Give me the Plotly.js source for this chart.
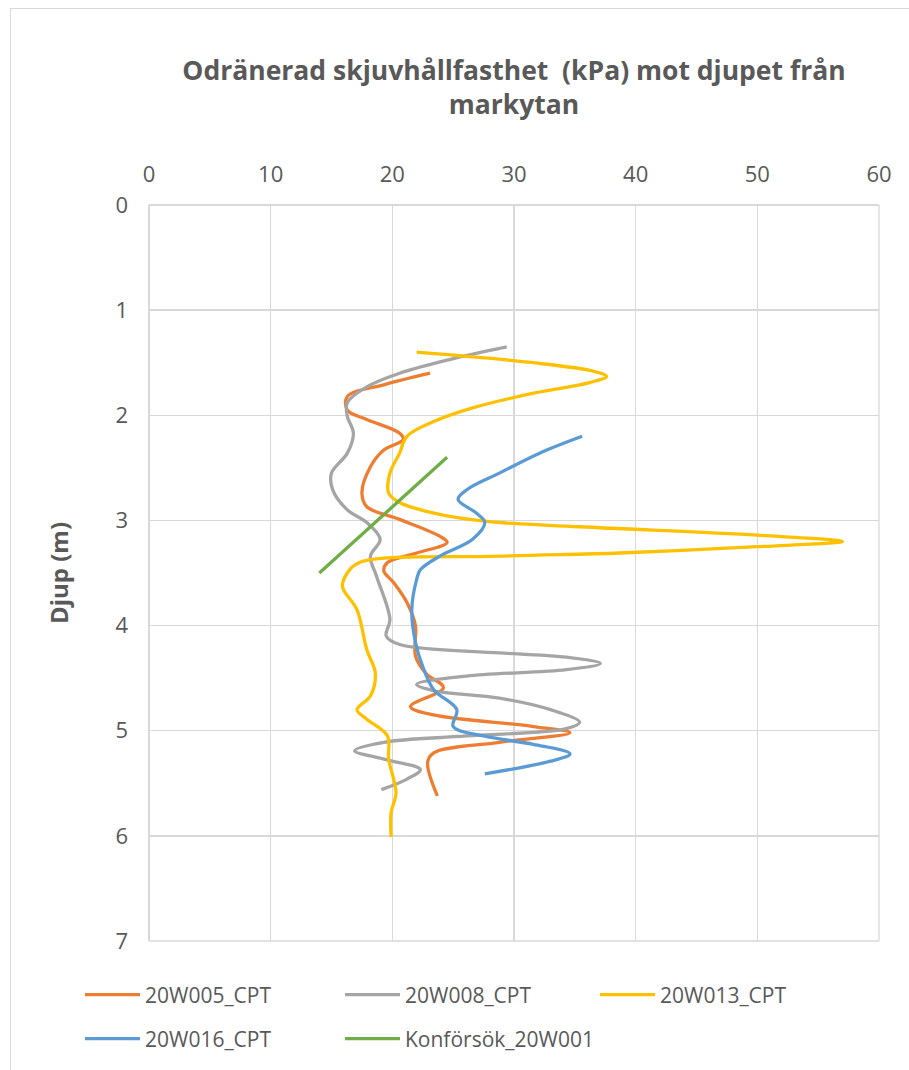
<!DOCTYPE html>
<html><head><meta charset="utf-8">
<script src="https://cdn.plot.ly/plotly-3.0.1.min.js"></script>
<style>
html,body{margin:0;padding:0;background:#fff;overflow:hidden;}
#frame{position:absolute;left:10px;top:8px;width:1000px;height:1100px;border-left:1px solid #d9d9d9;border-top:1px solid #d9d9d9;}
#chart{position:absolute;left:0;top:0;width:909px;height:1070px;}
</style></head>
<body>
<div id="frame"></div>
<div id="chart"></div>
<script>
const seriesNames = ["20W005_CPT","20W008_CPT","20W013_CPT","20W016_CPT","Konförsök_20W001"];
const seriesColors = ["#ED7D31","#A5A5A5","#FFC000","#5B9BD5","#70AD47"];

const w005_kpa = [23.1,19.3,16.3,16.3,17.9,20.6,20.9,19.3,18.2,17.5,17.9,20.6,23.9,24.5,22.0,19.6,19.3,20.1,21.2,21.9,21.9,22.8,24.2,21.5,23.4,31.6,34.6,28.8,23.4,22.9,23.7];
const w005_depth = [1.60,1.71,1.82,1.95,2.04,2.17,2.23,2.33,2.49,2.74,2.87,2.99,3.15,3.21,3.31,3.40,3.48,3.59,3.78,4.00,4.29,4.46,4.59,4.77,4.85,4.96,5.02,5.11,5.21,5.30,5.62];

const w008_kpa = [29.4,24.7,20.6,17.9,16.3,16.3,16.8,16.3,15.0,15.1,16.3,17.9,19.0,18.2,18.7,19.8,19.5,20.6,28.8,34.3,37.1,34.3,26.1,22.0,23.4,28.8,33.0,35.4,34.3,26.1,19.3,16.9,19.3,22.3,21.2,19.1];
const w008_depth = [1.35,1.47,1.60,1.73,1.88,2.01,2.17,2.36,2.55,2.71,2.90,3.02,3.18,3.34,3.53,3.94,4.10,4.18,4.26,4.30,4.36,4.42,4.48,4.56,4.62,4.69,4.80,4.92,4.98,5.05,5.11,5.19,5.27,5.37,5.46,5.56];

const w013_kpa = [22.0,31.6,36.5,37.6,36.2,31.6,26.6,23.4,21.2,20.6,19.8,19.7,20.6,23.4,27.8,35.4,50.0,57.0,50.0,38.7,28.8,17.3,16.3,15.9,17.1,17.9,18.6,18.2,17.1,17.9,19.6,19.7,20.3,19.9,19.9];
const w013_depth = [1.40,1.50,1.58,1.63,1.69,1.79,1.93,2.06,2.20,2.36,2.55,2.74,2.83,2.93,3.01,3.06,3.14,3.20,3.25,3.31,3.34,3.40,3.50,3.63,3.85,4.23,4.45,4.67,4.80,4.89,5.05,5.27,5.59,5.78,6.01];

const w016_kpa = [35.6,32.1,28.8,26.1,25.4,26.9,27.6,26.6,23.9,22.3,22.0,21.6,21.9,22.5,23.4,25.3,25.0,27.5,31.6,34.6,33.0,27.6];
const w016_depth = [2.20,2.36,2.55,2.71,2.80,2.93,3.02,3.18,3.34,3.47,3.56,3.85,4.16,4.39,4.61,4.80,4.96,5.05,5.13,5.22,5.29,5.41];

const w001_kpa = [24.5,14.0];
const w001_depth = [2.40,3.50];

const xTicks = [0,10,20,30,40,50,60];
const yTicks = [0,1,2,3,4,5,6,7];

const FONT = "'Open Sans', sans-serif";
const TXT = "#595959";

const xs = [w005_kpa,w008_kpa,w013_kpa,w016_kpa,w001_kpa];
const ys = [w005_depth,w008_depth,w013_depth,w016_depth,w001_depth];
const legendIds = ["legend","legend2","legend3","legend4","legend5"];
const traces = seriesNames.map((n,i)=>({
  type:"scatter", mode:"lines", name:n, x:xs[i], y:ys[i],
  line:{color:seriesColors[i], width:3.3, shape: i===4 ? "linear" : "spline", smoothing:1},
  legend: legendIds[i], hoverinfo:"skip"
}));

const legendCommon = {orientation:"h", font:{family:FONT,size:21,color:TXT}, itemwidth:55,
  bgcolor:"rgba(0,0,0,0)", xanchor:"left", yanchor:"middle", itemclick:false, itemdoubleclick:false};
// legend item positions in pixels (left of symbol, centre y)
const legPos = [[80,995],[340,995],[595,995],[80,1039],[340,1039]];

const layout = {
  width:909, height:1070,
  margin:{l:149, r:30, t:205, b:128},
  paper_bgcolor:"rgba(0,0,0,0)", plot_bgcolor:"#fff",
  showlegend:true,
  title:{text:"Odränerad skjuvhållfasthet  (kPa) mot djupet från<br>markytan",
    font:{family:FONT,size:26.5,color:TXT,weight:"bold"}, x:0.5, xref:"paper", xanchor:"center",
    y:1-80/1070, yref:"container", yanchor:"middle"},
  xaxis:{side:"top", range:[0,60], tickvals:xTicks, ticktext:xTicks.map(String),
    showgrid:true, gridcolor:"#d9d9d9", gridwidth:1.3, zeroline:true, zerolinecolor:"#d9d9d9", zerolinewidth:1.3,
    showline:false, ticks:"", ticklabelstandoff:18, tickfont:{family:FONT,size:22,color:TXT}, fixedrange:true},
  yaxis:{range:[7,0], tickvals:yTicks, ticktext:yTicks.map(String),
    showgrid:true, gridcolor:"#d9d9d9", gridwidth:1.3, zeroline:true, zerolinecolor:"#d9d9d9", zerolinewidth:1.3,
    showline:false, ticks:"", ticklabelstandoff:20, tickfont:{family:FONT,size:22,color:TXT},
    title:{text:"Djup (m)", font:{family:FONT,size:24,color:TXT,weight:"bold"}, standoff:40}, fixedrange:true},
  shapes:[{type:"line", xref:"paper", yref:"paper", x0:1, x1:1, y0:0, y1:1, line:{color:"#d9d9d9", width:1.3}},
          {type:"line", xref:"paper", yref:"paper", x0:0, x1:1, y0:0, y1:0, line:{color:"#d9d9d9", width:1.3}}]
};
legendIds.forEach((id,i)=>{
  layout[id] = Object.assign({}, legendCommon, {x:(legPos[i][0]-149)/730, y:-(legPos[i][1]-942)/737});
});

Plotly.newPlot("chart", traces, layout, {displayModeBar:false, staticPlot:true});
</script>
</body></html>
